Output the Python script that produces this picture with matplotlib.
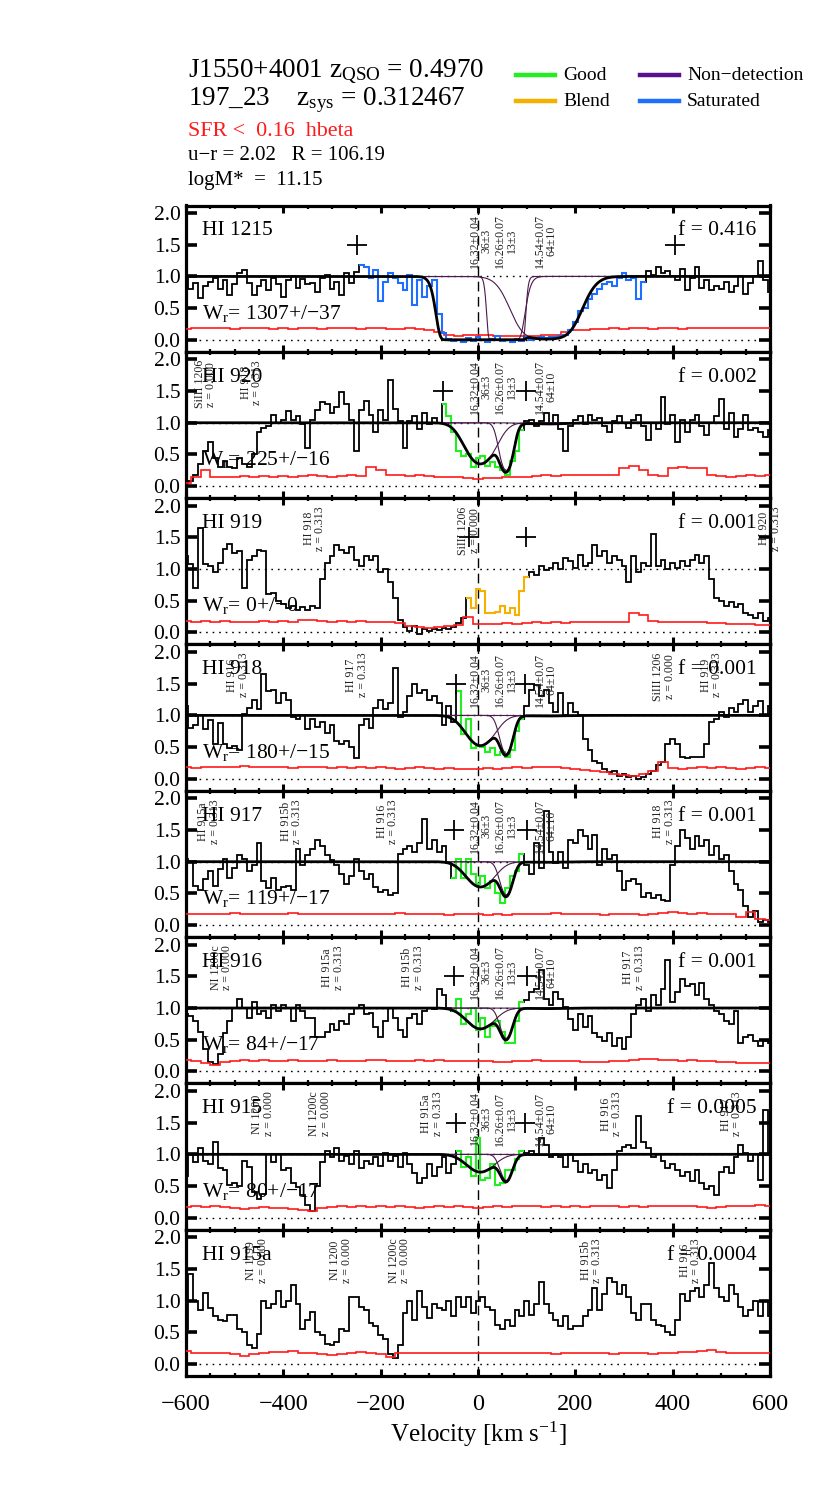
import numpy as np
import matplotlib
matplotlib.use("Agg")
import matplotlib.pyplot as plt
from matplotlib.ticker import MultipleLocator, NullLocator, FormatStrFormatter
from matplotlib.lines import Line2D

plt.rcParams['font.family'] = ['Liberation Serif', 'DejaVu Serif']
plt.rcParams['mathtext.fontset'] = 'custom'
plt.rcParams['mathtext.rm'] = 'Liberation Serif'
plt.rcParams['mathtext.it'] = 'Liberation Serif:italic'
plt.rcParams['mathtext.bf'] = 'Liberation Serif:bold'

# ---------------- data ----------------
velocity = np.arange(-600, 601, 10)       # flux bin centres (km/s)
err_velocity = np.arange(-600, 601, 20)   # error bin centres (km/s)

panel_names = ["HI 1215", "HI 920", "HI 919", "HI 918", "HI 917", "HI 916", "HI 915", "HI 915a"]
panel_fvals = ["0.416", "0.002", "0.001", "0.001", "0.001", "0.001", "0.0005", "0.0004"]
panel_wr = ["1307+/\u221237", "225+/\u221216", "0+/\u22120", "180+/\u221215",
            "119+/\u221217", "84+/\u221217", "80+/\u221217", None]

flux_1215 = [0.98, 0.80, 0.90, 0.66, 0.85, 0.92, 0.97, 0.80, 0.95, 0.70,
             0.88, 1.05, 1.10, 0.90, 0.70, 0.85, 0.95, 0.78, 0.98, 0.88,
             0.68, 0.94, 1.00, 0.82, 0.96, 0.88, 0.90, 0.75, 0.97, 1.02,
             0.80, 0.92, 0.70, 1.05, 0.90, 1.07, 1.18, 1.15, 0.98, 1.10,
             0.62, 0.92, 1.05, 0.98, 0.90, 0.78, 1.02, 0.55, 0.95, 0.68,
             0.85, 0.95, 0.40, 0.10, 0.02, -0.02, 0.00, -0.03, 0.03, -0.02,
             0.05, 0.00, -0.03, 0.02, 0.06, -0.02, 0.00, -0.03, 0.01, -0.02,
             0.04, 0.00, 0.02, 0.05, 0.03, 0.04, 0.05, 0.06, 0.08, 0.15,
             0.28, 0.45, 0.50, 0.65, 0.72, 0.80, 0.88, 0.92, 0.85, 0.97,
             1.05, 0.95, 0.98, 0.65, 0.92, 1.08, 1.02, 1.15, 1.05, 1.08,
             1.00, 0.95, 1.12, 0.78, 0.98, 1.15, 0.82, 0.95, 0.78, 0.85,
             0.80, 0.92, 0.76, 0.85, 1.00, 0.72, 0.90, 1.00, 1.25, 0.95,
             0.75]
flux_920 = [0.05, 0.08, 0.18, 0.35, 0.55, 0.70, 0.45, 0.30, 0.40, 0.30,
            0.28, 0.45, 0.35, 0.30, 0.50, 0.85, 0.92, 0.95, 1.12, 1.00,
            1.05, 1.18, 1.05, 1.10, 0.98, 0.60, 1.05, 1.20, 1.32, 1.30,
            1.15, 1.25, 1.48, 1.30, 1.05, 0.55, 1.20, 1.35, 1.12, 0.85,
            1.20, 1.05, 1.68, 1.22, 1.02, 0.60, 1.02, 1.10, 0.90, 1.15,
            0.98, 1.08, 1.00, 1.30, 1.10, 0.85, 0.55, 0.48, 0.50, 0.30,
            0.45, 0.48, 0.32, 0.38, 0.30, 0.25, 0.18, 0.40, 0.55, 0.88,
            1.02, 1.05, 0.95, 1.02, 1.15, 0.98, 1.12, 0.90, 0.55, 0.95,
            1.05, 1.10, 0.98, 1.12, 1.05, 1.08, 0.95, 0.85, 1.02, 1.10,
            1.00, 0.92, 1.05, 1.12, 0.95, 0.72, 1.00, 0.90, 1.40, 0.98,
            1.12, 0.70, 1.05, 0.85, 1.05, 1.12, 0.95, 0.80, 1.00, 1.10,
            1.38, 0.90, 1.15, 0.78, 0.90, 1.12, 0.88, 0.92, 0.85, 0.78,
            0.88]
flux_919 = [1.20, 1.08, 0.70, 1.65, 1.08, 1.05, 0.95, 1.10, 1.32, 1.40,
            1.25, 1.28, 0.70, 1.15, 1.20, 1.30, 1.28, 0.60, 0.62, 0.50,
            0.45, 0.38, 0.42, 0.35, 0.40, 0.35, 0.42, 0.38, 0.85, 1.10,
            1.20, 1.38, 1.30, 1.25, 1.35, 1.15, 1.05, 1.20, 1.15, 1.20,
            0.95, 1.00, 0.80, 0.55, 0.20, 0.08, 0.02, 0.10, -0.02, 0.05,
            0.02, 0.06, 0.04, 0.07, 0.05, 0.08, 0.15, 0.22, 0.55, 0.38,
            0.68, 0.65, 0.30, 0.30, 0.32, 0.42, 0.30, 0.38, 0.28, 0.65,
            0.88, 0.95, 0.90, 1.05, 0.98, 1.02, 1.10, 1.00, 1.18, 1.12,
            1.02, 1.22, 1.05, 1.10, 1.38, 1.20, 1.28, 1.10, 1.20, 1.15,
            1.05, 0.80, 1.20, 0.95, 1.10, 1.05, 1.55, 1.05, 1.15, 1.00,
            1.10, 1.02, 1.12, 1.05, 1.15, 1.22, 1.10, 1.20, 0.85, 0.55,
            0.50, 0.42, 0.48, 0.40, 0.45, 0.30, 0.28, 0.22, 0.30, 0.18,
            0.22]
flux_918 = [1.15, 0.80, 0.85, 1.00, 0.78, 0.92, 0.55, 0.88, 0.55, 0.48,
            0.52, 0.45, 1.02, 1.12, 1.25, 1.10, 1.65, 1.38, 1.40, 1.20,
            1.35, 1.25, 0.98, 0.95, 1.00, 0.78, 0.95, 0.82, 0.90, 0.72,
            0.85, 0.60, 0.55, 0.60, 0.50, 0.33, 0.85, 0.95, 0.80, 1.12,
            1.25, 1.10, 1.20, 1.75, 0.98, 1.05, 1.30, 1.50, 1.35, 1.40,
            1.25, 1.30, 1.20, 0.85, 1.15, 0.90, 1.38, 0.70, 0.95, 0.48,
            0.52, 0.50, 0.42, 0.48, 0.38, 0.42, 0.35, 0.45, 0.75, 0.95,
            1.15, 1.40, 1.48, 1.30, 1.40, 1.20, 1.05, 1.35, 1.00, 1.20,
            1.05, 1.00, 0.62, 0.45, 0.28, 0.25, 0.15, 0.10, 0.12, 0.05,
            0.08, 0.02, 0.05, 0.00, 0.03, 0.08, 0.12, 0.22, 0.27, 0.55,
            0.62, 0.55, 0.35, 0.33, 0.35, 0.34, 0.35, 0.55, 0.90, 0.95,
            1.05, 0.98, 1.12, 1.05, 1.18, 1.25, 1.05, 1.15, 1.22, 1.00,
            1.15]
flux_917 = [1.05, 1.00, 0.62, 0.55, 0.72, 0.85, 0.62, 0.88, 1.05, 0.75,
            0.90, 1.10, 1.05, 0.85, 0.95, 1.30, 0.70, 0.58, 0.75, 0.55,
            0.60, 0.62, 0.55, 1.20, 0.95, 1.10, 1.20, 1.35, 1.25, 1.10,
            1.02, 0.95, 0.80, 0.65, 0.78, 1.05, 0.85, 0.72, 0.80, 0.60,
            0.52, 0.55, 0.48, 0.50, 1.12, 1.20, 1.25, 1.15, 1.30, 1.68,
            1.20, 1.35, 1.15, 1.25, 0.98, 0.75, 1.05, 0.75, 1.05, 0.80,
            0.65, 0.78, 0.58, 0.70, 0.50, 0.35, 0.58, 0.78, 0.85, 1.12,
            0.95, 0.80, 1.30, 0.90, 1.80, 1.15, 0.98, 1.15, 0.90, 1.35,
            1.30, 1.50, 1.40, 1.20, 1.42, 0.95, 1.20, 1.05, 1.10, 0.85,
            0.55, 0.70, 0.72, 0.65, 0.45, 0.50, 0.42, 0.48, 0.40, 0.38,
            0.95, 1.25, 1.50, 1.38, 1.20, 1.40, 1.25, 1.35, 1.10, 1.25,
            1.05, 1.10, 0.85, 0.65, 0.55, 0.30, 0.12, 0.22, 0.05, 0.08,
            0.05]
flux_916 = [0.90, 0.88, 0.80, 0.62, 0.35, 0.15, 0.12, 0.28, 0.60, 0.80,
            1.00, 1.15, 1.00, 0.85, 1.10, 0.90, 0.95, 0.85, 1.05, 0.95,
            1.05, 1.00, 0.80, 1.05, 0.95, 0.85, 0.85, 0.55, 0.55, 0.62,
            0.75, 0.65, 0.80, 0.75, 0.90, 1.00, 1.05, 0.90, 0.92, 0.70,
            0.55, 0.80, 1.00, 0.85, 0.65, 0.55, 0.85, 0.90, 0.75, 0.95,
            1.00, 0.98, 1.30, 1.20, 1.00, 0.95, 1.15, 0.75, 0.90, 1.00,
            0.65, 0.85, 0.55, 0.72, 0.80, 0.62, 0.45, 0.45, 0.80, 1.10,
            1.12, 1.25, 1.30, 1.60, 1.15, 1.05, 1.25, 1.15, 1.02, 0.82,
            0.65, 0.90, 0.70, 0.88, 0.60, 0.55, 0.48, 0.60, 0.40, 0.52,
            0.35, 0.55, 0.90, 1.05, 1.15, 0.95, 1.20, 1.05, 1.30, 1.75,
            1.10, 1.25, 1.45, 1.35, 1.38, 1.20, 1.40, 1.15, 1.05, 0.95,
            0.90, 0.80, 0.75, 0.95, 0.45, 0.55, 0.58, 0.48, 0.40, 0.48,
            0.45]
flux_915 = [0.65, 1.00, 0.88, 1.10, 0.90, 0.85, 1.20, 0.78, 0.75, 0.52,
            0.55, 0.50, 0.90, 0.80, 0.40, 0.30, 0.38, 1.00, 0.88, 1.00,
            0.75, 0.78, 0.55, 0.48, 0.35, 0.20, 0.10, 0.50, 0.88, 1.05,
            0.95, 1.10, 0.90, 0.98, 0.85, 1.05, 0.78, 0.90, 0.85, 0.95,
            0.82, 1.02, 0.90, 0.98, 0.80, 1.02, 0.85, 0.70, 0.55, 0.62,
            0.85, 0.65, 0.80, 0.95, 0.70, 0.85, 1.05, 0.80, 0.95, 0.65,
            1.25, 0.60, 0.62, 0.85, 0.52, 0.55, 0.75, 0.75, 0.92, 1.05,
            1.02, 1.05, 1.00, 1.25, 1.15, 0.95, 1.00, 0.95, 0.80, 1.00,
            0.90, 0.72, 0.85, 0.70, 0.75, 0.60, 0.68, 0.47, 0.75, 1.05,
            1.12, 1.15, 1.10, 1.60, 1.20, 1.10, 0.95, 1.00, 0.90, 0.78,
            0.85, 0.75, 0.65, 0.72, 0.58, 0.75, 0.55, 0.45, 0.50, 0.35,
            0.72, 0.80, 0.70, 0.95, 1.15, 1.02, 0.90, 1.00, 0.60, 1.70,
            1.00]
flux_915a = [0.55, 1.42, 1.00, 0.85, 1.12, 0.88, 0.75, 0.70, 0.68, 0.78,
             0.78, 0.55, 0.50, 0.30, 0.25, 0.47, 1.00, 0.88, 0.95, 1.15,
             0.90, 1.00, 1.25, 0.95, 0.55, 0.70, 0.82, 0.50, 0.45, 0.32,
             0.30, 0.35, 0.55, 0.52, 1.05, 1.05, 0.90, 0.85, 0.65, 0.60,
             0.45, 0.40, 0.15, 0.10, 0.30, 0.80, 1.00, 0.70, 1.15, 0.90,
             0.72, 0.95, 0.88, 0.85, 1.00, 0.75, 1.05, 0.90, 1.05, 0.80,
             1.00, 1.05, 0.90, 0.85, 0.62, 0.55, 0.70, 0.60, 0.85, 0.75,
             1.00, 0.78, 0.95, 1.30, 0.95, 0.80, 0.70, 0.60, 0.75, 0.55,
             0.60, 0.60, 0.75, 0.85, 1.20, 0.85, 1.10, 1.35, 1.30, 1.10,
             1.25, 1.05, 0.80, 0.70, 0.95, 0.95, 0.70, 0.62, 0.60, 0.50,
             0.45, 0.70, 1.10, 1.00, 1.15, 1.20, 1.05, 1.25, 1.60, 1.20,
             1.05, 1.00, 1.25, 1.10, 0.90, 0.75, 0.85, 1.00, 0.75, 1.00,
             0.75]

err_1215 = [0.17, 0.18, 0.18, 0.19, 0.18, 0.17, 0.18, 0.19, 0.18, 0.17,
            0.18, 0.17, 0.18, 0.18, 0.17, 0.18, 0.19, 0.18, 0.17, 0.18,
            0.18, 0.17, 0.17, 0.18, 0.17, 0.16, 0.12, 0.08, 0.06, 0.07,
            0.07, 0.08, 0.06, 0.06, 0.06, 0.06, 0.06, 0.07, 0.08, 0.12,
            0.15, 0.16, 0.17, 0.17, 0.18, 0.17, 0.18, 0.18, 0.17, 0.18,
            0.18, 0.17, 0.18, 0.19, 0.18, 0.18, 0.19, 0.18, 0.19, 0.19,
            0.19]
err_920 = [0.05, 0.15, 0.25, 0.15, 0.14, 0.15, 0.16, 0.15, 0.16, 0.15,
           0.16, 0.15, 0.16, 0.17, 0.16, 0.15, 0.16, 0.17, 0.16, 0.30,
           0.26, 0.18, 0.17, 0.16, 0.17, 0.16, 0.15, 0.15, 0.14, 0.13,
           0.11, 0.12, 0.13, 0.14, 0.15, 0.15, 0.16, 0.17, 0.16, 0.17,
           0.17, 0.18, 0.17, 0.18, 0.18, 0.28, 0.32, 0.25, 0.17, 0.16,
           0.28, 0.30, 0.29, 0.28, 0.17, 0.16, 0.15, 0.16, 0.17, 0.16,
           0.17]
err_919 = [0.18, 0.17, 0.18, 0.17, 0.18, 0.17, 0.16, 0.17, 0.18, 0.17,
           0.18, 0.17, 0.20, 0.19, 0.18, 0.17, 0.18, 0.17, 0.18, 0.17,
           0.16, 0.16, 0.15, 0.10, 0.08, 0.07, 0.08, 0.10, 0.12, 0.24,
           0.14, 0.13, 0.14, 0.15, 0.14, 0.15, 0.16, 0.15, 0.16, 0.15,
           0.16, 0.17, 0.16, 0.17, 0.16, 0.17, 0.30, 0.28, 0.18, 0.17,
           0.17, 0.16, 0.17, 0.16, 0.15, 0.15, 0.14, 0.14, 0.13, 0.12,
           0.12]
err_918 = [0.18, 0.17, 0.18, 0.18, 0.19, 0.18, 0.20, 0.19, 0.18, 0.19,
           0.18, 0.17, 0.18, 0.19, 0.18, 0.17, 0.18, 0.17, 0.18, 0.17,
           0.18, 0.17, 0.16, 0.17, 0.18, 0.17, 0.16, 0.17, 0.16, 0.15,
           0.16, 0.17, 0.16, 0.17, 0.18, 0.17, 0.18, 0.19, 0.18, 0.17,
           0.16, 0.14, 0.12, 0.10, 0.08, 0.06, 0.05, 0.08, 0.12, 0.27,
           0.17, 0.16, 0.17, 0.18, 0.17, 0.18, 0.17, 0.16, 0.17, 0.18,
           0.17]
err_917 = [0.18, 0.17, 0.18, 0.17, 0.18, 0.19, 0.18, 0.17, 0.18, 0.17,
           0.18, 0.19, 0.18, 0.17, 0.18, 0.17, 0.18, 0.17, 0.18, 0.17,
           0.17, 0.18, 0.19, 0.18, 0.17, 0.18, 0.17, 0.16, 0.17, 0.18,
           0.17, 0.16, 0.17, 0.16, 0.17, 0.18, 0.17, 0.18, 0.19, 0.18,
           0.17, 0.18, 0.17, 0.16, 0.17, 0.18, 0.17, 0.16, 0.18, 0.19,
           0.20, 0.19, 0.18, 0.19, 0.18, 0.17, 0.18, 0.12, 0.20, 0.10,
           0.08]
err_916 = [0.18, 0.17, 0.13, 0.10, 0.15, 0.17, 0.18, 0.17, 0.18, 0.17,
           0.17, 0.18, 0.17, 0.16, 0.17, 0.18, 0.17, 0.16, 0.17, 0.18,
           0.18, 0.17, 0.16, 0.17, 0.18, 0.17, 0.18, 0.17, 0.16, 0.17,
           0.17, 0.16, 0.15, 0.14, 0.16, 0.17, 0.18, 0.17, 0.16, 0.17,
           0.16, 0.15, 0.14, 0.15, 0.16, 0.17, 0.18, 0.20, 0.19, 0.18,
           0.18, 0.17, 0.18, 0.17, 0.16, 0.15, 0.14, 0.13, 0.13, 0.13,
           0.13]
err_915 = [0.17, 0.18, 0.17, 0.18, 0.17, 0.15, 0.14, 0.16, 0.17, 0.16,
           0.15, 0.14, 0.12, 0.10, 0.15, 0.17, 0.18, 0.17, 0.18, 0.17,
           0.18, 0.17, 0.18, 0.17, 0.16, 0.17, 0.18, 0.17, 0.18, 0.17,
           0.16, 0.17, 0.18, 0.17, 0.18, 0.19, 0.18, 0.17, 0.18, 0.17,
           0.18, 0.17, 0.18, 0.19, 0.18, 0.17, 0.18, 0.17, 0.18, 0.19,
           0.18, 0.19, 0.18, 0.17, 0.16, 0.17, 0.18, 0.19, 0.18, 0.20,
           0.19]
err_915a = [0.20, 0.18, 0.18, 0.17, 0.17, 0.15, 0.13, 0.15, 0.18, 0.19,
            0.19, 0.20, 0.18, 0.17, 0.16, 0.14, 0.16, 0.18, 0.19, 0.17,
            0.15, 0.11, 0.17, 0.18, 0.17, 0.18, 0.17, 0.18, 0.17, 0.18,
            0.18, 0.17, 0.18, 0.17, 0.18, 0.17, 0.18, 0.17, 0.16, 0.17,
            0.18, 0.17, 0.18, 0.17, 0.16, 0.17, 0.18, 0.17, 0.15, 0.17,
            0.18, 0.19, 0.19, 0.20, 0.22, 0.19, 0.18, 0.17, 0.18, 0.17,
            0.17]

panel_flux = [flux_1215, flux_920, flux_919, flux_918, flux_917, flux_916, flux_915, flux_915a]
panel_err = [err_1215, err_920, err_919, err_918, err_917, err_916, err_915, err_915a]

# flagged velocity ranges (colour class) per panel
flag_class = ["Saturated", "Good", "Blend", "Good", "Good", "Good", "Good", None]
flag_range = [(-240, 340), (-70, 90), (-20, 100), (-40, 90), (-50, 90), (-50, 90), (-40, 90), None]
# integration limits (crosses)
int_limits = [(-248, 404), (-71, 99), (-18, 99), (-45, 97), (-50, 101), (-50, 101), (-45, 97), None]

# Voigt-fit components
comp_v = [5, 58, 140]
comp_labels = ["16.32\u00b10.04\n36\u00b13", "16.26\u00b10.07\n13\u00b13", "14.54\u00b10.07\n64\u00b110"]
comp_width = [37, 16, 55]            # apparent profile widths (km/s)
# central optical depth of each component per panel (None = no fit drawn)
comp_tau0 = [[400.0, 500.0, 4.5],
             [1.05, 1.39, 0.02],
             None,
             [0.65, 0.92, 0.01],
             [0.51, 0.74, 0.01],
             [0.40, 0.65, 0.01],
             [0.33, 0.53, 0.005],
             None]

# line identifications (velocity, label)
line_ids = [
    [],
    [(-560, "SiIII 1206\nz = 0.000"), (-465, "HI 918\nz = 0.313")],
    [(-336, "HI 918\nz = 0.313"), (-18, "SiIII 1206\nz = 0.000"), (600, "HI 920\nz = 0.313")],
    [(-493, "HI 916\nz = 0.313"), (-249, "HI 917\nz = 0.313"), (382, "SiIII 1206\nz = 0.000"),
     (480, "HI 919\nz = 0.313")],
    [(-553, "HI 915a\nz = 0.313"), (-383, "HI 915b\nz = 0.313"), (-186, "HI 916\nz = 0.313"),
     (382, "HI 918\nz = 0.313")],
    [(-527, "NI 1200c\nz = 0.000"), (-298, "HI 915a\nz = 0.313"), (-134, "HI 915b\nz = 0.313"),
     (320, "HI 917\nz = 0.313")],
    [(-442, "NI 1200\nz = 0.000"), (-325, "NI 1200c\nz = 0.000"), (-94, "HI 915a\nz = 0.313"),
     (274, "HI 916\nz = 0.313"), (521, "HI 917\nz = 0.313")],
    [(-454, "NI 1199\nz = 0.000"), (-282, "NI 1200\nz = 0.000"), (-161, "NI 1200c\nz = 0.000"),
     (233, "HI 915b\nz = 0.313"), (437, "HI 916\nz = 0.313")],
]
show_unity = [True, True, True, True, True, True, True, False]

legend_names = ["Good", "Blend", "Non\u2212detection", "Saturated"]
legend_colors = {"Good": "#22ee22", "Blend": "#f5b000", "Non\u2212detection": "#5a0f8c", "Saturated": "#1e6fff"}

# ---------------- figure ----------------
W, H = 830, 1495
fig = plt.figure(figsize=(W / 100, H / 100), dpi=100)

def fx(px):
    return px / W

def fy(py):
    return 1 - py / H

left_px, right_px = 186, 770
top_px, bot_px = 205.5, 1376.0
npan = len(panel_names)
ph = (bot_px - top_px) / npan

vfine = np.linspace(-600, 600, 2401)
edges = np.append(velocity - 5, velocity[-1] + 5)
err_edges = np.append(err_velocity - 10, err_velocity[-1] + 10)
comp_color = "#4a1a4a"
label_fs = 8.6

for i in range(npan):
    y0 = fy(top_px + (i + 1) * ph)
    ax = fig.add_axes([fx(left_px), y0, fx(right_px) - fx(left_px), ph / H])
    ax.set_xlim(-600, 600)
    ax.set_ylim(-0.19, 2.12)

    flux = np.array(panel_flux[i])
    err = np.array(panel_err[i])

    # reference lines
    ax.axhline(0.0, color="k", ls=(0, (1.2, 3.5)), lw=1.0, zorder=1)
    if show_unity[i]:
        ax.axhline(1.0, color="k", ls=(0, (1.2, 3.5)), lw=1.0, zorder=1)
    ax.axvline(0.0, color="k", ls=(0, (7, 4)), lw=1.0, zorder=1)

    # spectrum
    ax.stairs(flux, edges, baseline=None, color="k", lw=1.3, zorder=3)
    if flag_class[i] is not None:
        lo, hi = flag_range[i]
        m = np.where((velocity >= lo) & (velocity <= hi))[0]
        ax.stairs(flux[m], edges[m[0]:m[-1] + 2], baseline=None,
                  color=legend_colors[flag_class[i]], lw=1.5, zorder=4)
    ax.stairs(err, err_edges, baseline=None, color="#ff1a1a", lw=1.2, zorder=3)

    # fit
    if comp_tau0[i] is not None:
        tau_tot = np.zeros_like(vfine)
        for k in range(len(comp_v)):
            tau_k = comp_tau0[i][k] * np.exp(-((vfine - comp_v[k]) / comp_width[k]) ** 2)
            tau_tot += tau_k
            ax.plot(vfine, np.exp(-tau_k), color=comp_color, lw=0.8, zorder=5)
        ax.plot(vfine, np.exp(-tau_tot), color="k", lw=2.0, zorder=6)
        for k in range(len(comp_v)):
            ax.text(comp_v[k], 1.99, comp_labels[k], rotation=90, ha="center", va="top",
                    fontsize=label_fs, linespacing=0.95, color="#222222", zorder=7)

    # integration limits
    if int_limits[i] is not None:
        ax.plot(list(int_limits[i]), [1.5, 1.5], ls="none", marker="+", ms=14, mew=1.3,
                color="k", zorder=7)

    # line IDs
    for v, lab in line_ids[i]:
        ax.text(v, 1.99, lab, rotation=90, ha="center", va="top", fontsize=label_fs,
                linespacing=0.95, color="#222222", clip_on=False, zorder=7)

    # panel texts
    ax.text(-567, 1.72, panel_names[i], fontsize=15.5, ha="left", va="center", zorder=8)
    ax.text(572, 1.72, "f = " + panel_fvals[i], fontsize=15.5, ha="right", va="center", zorder=8)
    if panel_wr[i] is not None:
        ax.text(-567, 0.42, r"W$_{\mathrm{r}}$= " + panel_wr[i], fontsize=15.5,
                ha="left", va="center", zorder=8)

    # axes styling
    for s in ax.spines.values():
        s.set_linewidth(2.3)
    ax.xaxis.set_major_locator(MultipleLocator(200))
    ax.xaxis.set_minor_locator(MultipleLocator(50))
    ax.yaxis.set_major_locator(MultipleLocator(0.5))
    ax.yaxis.set_minor_locator(NullLocator())
    ax.yaxis.set_major_formatter(FormatStrFormatter("%.1f"))
    ax.tick_params(axis="x", which="major", direction="in", top=True, bottom=True,
                   length=5, width=2.2, labelsize=17.5, pad=13)
    ax.tick_params(axis="x", which="minor", direction="in", top=True, bottom=True,
                   length=2.5, width=1.6)
    ax.tick_params(axis="y", which="major", direction="in", left=True, right=True,
                   length=8, width=2.6, labelsize=15.5, pad=4)
    if i < npan - 1:
        ax.tick_params(axis="x", labelbottom=False)
    else:
        ax.set_xlabel(r"Velocity [km s$^{-1}$]", fontsize=18, labelpad=3)

# ---------------- header ----------------
fig.text(fx(188), fy(72), r"J1550+4001 z$_{\mathrm{QSO}}$ = 0.4970", fontsize=19.5, va="center", ha="left")
fig.text(fx(188), fy(100), r"197_23    z$_{\mathrm{sys}}$ = 0.312467", fontsize=19.5, va="center", ha="left")
fig.text(fx(188), fy(131), "SFR <  0.16  hbeta", fontsize=15.8, color="#ff1a1a", va="center", ha="left")
fig.text(fx(188), fy(155), "u\u2212r = 2.02   R = 106.19", fontsize=15, va="center", ha="left")
fig.text(fx(188), fy(180), "logM*  =  11.15", fontsize=15, va="center", ha="left")

leg_pos = {"Good": (516, 75), "Blend": (516, 101), "Non\u2212detection": (640, 75), "Saturated": (640, 101)}
for name in legend_names:
    x0, yy = leg_pos[name]
    fig.add_artist(Line2D([fx(x0), fx(x0 + 39)], [fy(yy), fy(yy)], transform=fig.transFigure,
                          color=legend_colors[name], lw=3.2))
    fig.text(fx(x0 + 47), fy(yy), name, fontsize=14, va="center", ha="left")

fig.savefig("out.png", dpi=100)
